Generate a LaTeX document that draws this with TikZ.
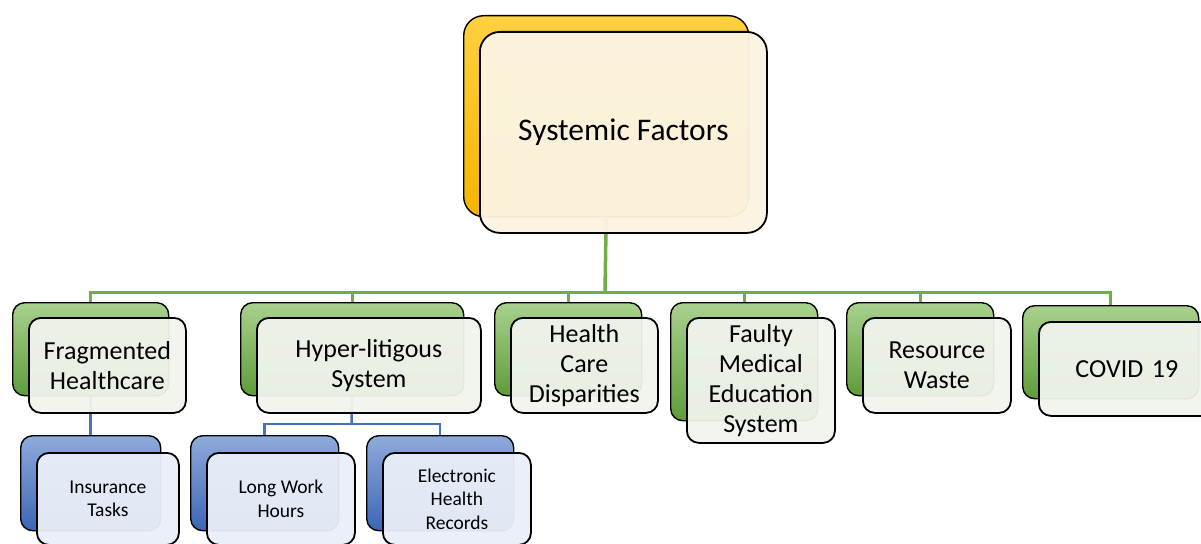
\documentclass[tikz,border=0pt]{standalone}
\usepackage{fontspec}
\setmainfont{Carlito}
\usetikzlibrary{positioning}
\definecolor{gline}{HTML}{70AD47}
\definecolor{bline}{HTML}{4472C4}
\definecolor{gtop}{HTML}{A9D18E}
\definecolor{gbot}{HTML}{5E9C3A}
\definecolor{ytop}{HTML}{FFD13F}
\definecolor{ybot}{HTML}{F5B400}
\definecolor{btop}{HTML}{8FAADC}
\definecolor{bbot}{HTML}{3C66B4}
\definecolor{creamf}{HTML}{FCF4E2}
\definecolor{greenf}{HTML}{F0F4EC}
\definecolor{bluef}{HTML}{EAEFF8}
\tikzset{
  box/.style={anchor=north west, rounded corners=12pt, draw=black, line width=1.4pt, inner sep=0pt},
  backg/.style={box, top color=gtop, bottom color=gbot},
  backy/.style={box, rounded corners=20pt, top color=ytop, bottom color=ybot},
  backb/.style={box, top color=btop, bottom color=bbot},
  frontg/.style={box, line width=1.8pt, fill=greenf, fill opacity=0.95, text opacity=1, align=center, font=\fontsize{26}{30}\selectfont},
  fronty/.style={box, line width=1.8pt, rounded corners=20pt, fill=creamf, fill opacity=0.96, text opacity=1, align=center, font=\fontsize{31.5}{36}\selectfont},
  frontb/.style={box, line width=1.8pt, fill=bluef, fill opacity=0.95, text opacity=1, align=center, font=\fontsize{19.5}{23.5}\selectfont},
  gconn/.style={draw=gline, line width=3pt},
  bconn/.style={draw=bline, line width=2.5pt},
}
\begin{document}
\begin{tikzpicture}[x=1pt,y=-1pt]
\useasboundingbox (0,0) rectangle (1201,543);
\clip (0,0) rectangle (1201,543);
% back boxes
\node[backy, minimum width=285pt, minimum height=201pt] (b0) at (463,15) {};
\node[backg, minimum width=156pt, minimum height=93pt] (b1) at (12,302) {};
\node[backg, minimum width=223pt, minimum height=93pt] (b2) at (240,302) {};
\node[backg, minimum width=147pt, minimum height=93pt] (b3) at (494,302) {};
\node[backg, minimum width=147pt, minimum height=118pt] (b4) at (670,302) {};
\node[backg, minimum width=147pt, minimum height=93pt] (b5) at (846,302) {};
\node[backg, minimum width=176pt, minimum height=93pt] (b6) at (1022,305) {};
\node[backb, minimum width=140pt, minimum height=95pt] (c1) at (20,435) {};
\node[backb, minimum width=148pt, minimum height=95pt] (c2) at (190,435) {};
\node[backb, minimum width=147pt, minimum height=95pt] (c3) at (366,435) {};
% connectors
\coordinate (bus) at (605,292);
\draw[gconn, line width=3.5pt] (b0.south) -- (bus);
\foreach \n in {b1,b2,b3,b4,b5,b6} {\draw[gconn] (bus) -| (\n.north);}
\coordinate (bus2) at (351.5,424);
\draw[bconn] (b1.south) -- (c1.north);
\draw[bconn] (b2.south) -- (bus2);
\draw[bconn] (bus2) -| (c2.north);
\draw[bconn] (bus2) -| (c3.north);
% front boxes
\node[fronty, minimum width=287pt, minimum height=201pt] (f0) at (479,31) {Systemic Factors};
\node[frontg, minimum width=157pt, minimum height=95pt] (f1) at (28,317) {Fragmented\\Healthcare};
\node[frontg, minimum width=224pt, minimum height=95pt] (f2) at (256,317) {Hyper-litigous\\System};
\node[frontg, minimum width=147pt, minimum height=95pt] (f3) at (510,317) {Health\\Care\\Disparities};
\node[frontg, minimum width=148pt, minimum height=125pt] (f4) at (686,317) {Faulty\\Medical\\Education\\System};
\node[frontg, minimum width=148pt, minimum height=95pt] (f5) at (862,317) {Resource\\Waste};
\node[frontg, minimum width=176pt, minimum height=94pt, text width=165pt] (f6) at (1038,321) {COVID 19};
\node[frontb, minimum width=142pt, minimum height=92pt] (g1) at (36,452) {Insurance\\Tasks};
\node[frontb, minimum width=148pt, minimum height=92pt] (g2) at (206,452) {Long Work\\Hours};
\node[frontb, minimum width=148pt, minimum height=92pt] (g3) at (382,452) {Electronic\\Health\\Records};
\end{tikzpicture}
\end{document}
